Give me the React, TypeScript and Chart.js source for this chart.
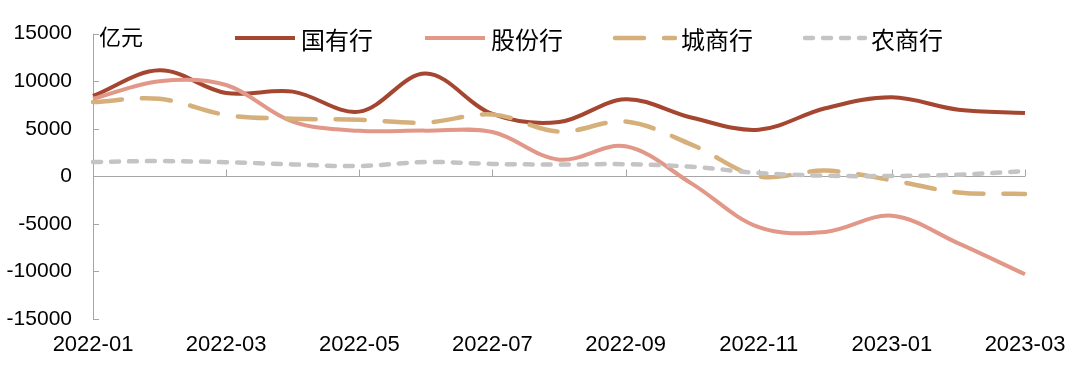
import React, { useEffect, useRef } from "react";
import { Chart, registerables } from "chart.js";

Chart.register(...registerables);

const categories = [
  "2022-01", "2022-02", "2022-03", "2022-04", "2022-05", "2022-06", "2022-07", "2022-08",
  "2022-09", "2022-10", "2022-11", "2022-12", "2023-01", "2023-02", "2023-03",
];
const stateOwned = [8450, 11150, 8750, 8900, 6800, 10800, 6550, 5700, 8100, 6150, 4900, 7150, 8300, 7000, 6650];
const jointStock = [8150, 10000, 9600, 5750, 4780, 4800, 4650, 1750, 3150, -800, -5350, -5850, -4150, -7050, -10300];
const cityBanks = [7800, 8150, 6450, 6050, 5950, 5650, 6500, 4700, 5750, 3300, 0, 600, -420, -1700, -1850];
const ruralBanks = [1500, 1600, 1480, 1250, 1080, 1500, 1300, 1240, 1270, 1000, 350, 60, 30, 170, 550];
const seriesNames = ["国有行", "股份行", "城商行", "农商行"];
const yTicks = [-15000, -10000, -5000, 0, 5000, 10000, 15000];
const unitLabel = "亿元";

const LATIN = "'Liberation Sans', Arial, sans-serif";
const CJK = "'Noto Sans CJK SC', 'Liberation Sans', sans-serif";
const AXIS = "#a6a6a6";

const decorPlugin = {
  id: "decor",
  beforeDatasetsDraw(chart: any) {
    const { ctx, chartArea, scales } = chart;
    const x = scales.x;
    const y = scales.y;
    const zeroY = y.getPixelForValue(0);
    ctx.save();
    ctx.strokeStyle = AXIS;
    ctx.lineWidth = 1;
    ctx.beginPath();
    ctx.moveTo(chartArea.left + 0.5, chartArea.top);
    ctx.lineTo(chartArea.left + 0.5, chartArea.bottom);
    ctx.stroke();
    yTicks.forEach((v) => {
      const py = Math.round(y.getPixelForValue(v)) + 0.5;
      ctx.beginPath();
      ctx.moveTo(chartArea.left, py);
      ctx.lineTo(chartArea.left + 6, py);
      ctx.stroke();
    });
    const zy = Math.round(zeroY) + 0.5;
    ctx.beginPath();
    ctx.moveTo(chartArea.left, zy);
    ctx.lineTo(chartArea.right, zy);
    ctx.stroke();
    categories.forEach((_, i) => {
      if (i % 2 !== 0) return;
      const px = Math.round(x.getPixelForValue(i)) + 0.5;
      ctx.beginPath();
      ctx.moveTo(px, zy);
      ctx.lineTo(px, zy - 7);
      ctx.stroke();
    });
    ctx.restore();
  },
  afterDraw(chart: any) {
    const { ctx, chartArea } = chart;
    ctx.save();
    ctx.fillStyle = "#000";
    ctx.font = `22px ${CJK}`;
    ctx.textAlign = "left";
    ctx.textBaseline = "middle";
    ctx.fillText(unitLabel, chartArea.left + 6, 37);
    const ds = chart.data.datasets;
    ds.forEach((d: any, i: number) => {
      const sx = 235 + i * 190;
      const ly = 38;
      ctx.save();
      ctx.strokeStyle = d.borderColor;
      ctx.lineWidth = d.borderWidth;
      ctx.lineCap = d.borderDash && d.borderDash.length ? "round" : "butt";
      ctx.setLineDash(d.borderDash || []);
      ctx.beginPath();
      ctx.moveTo(sx, ly);
      ctx.lineTo(sx + 60, ly);
      ctx.stroke();
      ctx.restore();
      ctx.fillStyle = "#000";
      ctx.font = `24px ${CJK}`;
      ctx.textAlign = "left";
      ctx.textBaseline = "middle";
      ctx.fillText(d.label, sx + 66, 40);
    });
    ctx.restore();
  },
};

export default function App() {
  const ref = useRef<HTMLCanvasElement | null>(null);
  useEffect(() => {
    document.body.style.margin = "0";
    const canvas = ref.current;
    if (!canvas) return;
    const chart = new Chart(canvas, {
      type: "line",
      data: {
        labels: categories,
        datasets: [
          {
            label: seriesNames[0],
            data: stateOwned,
            borderColor: "rgb(165,70,48)",
            borderWidth: 4,
            borderDash: [],
            order: 4,
          },
          {
            label: seriesNames[1],
            data: jointStock,
            borderColor: "rgb(226,152,136)",
            borderWidth: 4,
            borderDash: [],
            order: 3,
          },
          {
            label: seriesNames[2],
            data: cityBanks,
            borderColor: "rgb(213,176,122)",
            borderWidth: 4.5,
            borderDash: [29, 20],
            borderCapStyle: "round",
            order: 2,
          },
          {
            label: seriesNames[3],
            data: ruralBanks,
            borderColor: "rgb(196,196,196)",
            borderWidth: 4.5,
            borderDash: [8, 10],
            borderCapStyle: "round",
            order: 1,
          },
        ] as any,
      },
      options: {
        responsive: false,
        animation: false,
        devicePixelRatio: 1,
        layout: { padding: { left: 0, top: 30, right: 55, bottom: 0 } },
        elements: {
          point: { radius: 0, hoverRadius: 0 },
          line: { tension: 0.35, borderJoinStyle: "round", fill: false },
        },
        plugins: {
          legend: { display: false },
          tooltip: { enabled: false },
        },
        scales: {
          x: {
            type: "category",
            offset: false,
            grid: { display: false, drawTicks: false },
            border: { display: false },
            ticks: {
              autoSkip: false,
              maxRotation: 0,
              minRotation: 0,
              padding: 13,
              color: "#000",
              font: { family: LATIN, size: 22 },
              callback: (_v: any, i: number) => (i % 2 === 0 ? categories[i] : ""),
            },
            afterFit: (s: any) => {
              s.height = 46;
            },
          },
          y: {
            min: -15000,
            max: 15000,
            grid: { display: false, drawTicks: false },
            border: { display: false },
            ticks: {
              stepSize: 5000,
              padding: 21,
              color: "#000",
              font: { family: LATIN, size: 21 },
              callback: (v: any) => String(v),
            },
            afterFit: (s: any) => {
              s.width = 93;
            },
          },
        },
      },
      plugins: [decorPlugin],
    });
    return () => chart.destroy();
  }, []);
  return (
    <div style={{ width: 1080, height: 365, background: "#fff" }}>
      <canvas ref={ref} width={1080} height={365} style={{ display: "block" }} />
    </div>
  );
}
